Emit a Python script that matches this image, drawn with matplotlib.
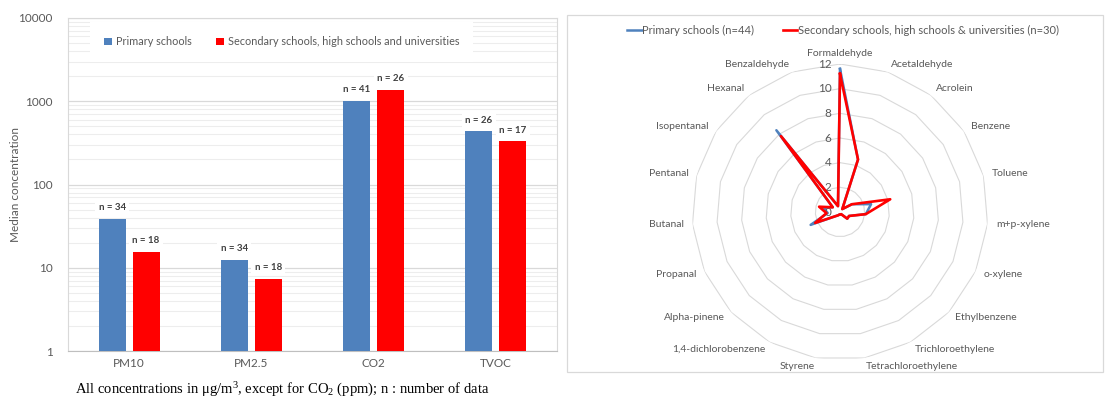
import numpy as np
import matplotlib
matplotlib.use("Agg")
import matplotlib.pyplot as plt
from matplotlib.patches import Rectangle
from matplotlib.lines import Line2D
from matplotlib.ticker import FixedLocator, FuncFormatter, LogLocator, NullFormatter

# ---------------- data ----------------
bar_categories = ["PM10", "PM2.5", "CO2", "TVOC"]
primary_median = [39, 12.4, 1010, 434]
secondary_median = [15.6, 7.4, 1380, 332]
primary_n = [34, 34, 41, 26]
secondary_n = [18, 18, 26, 17]
bar_series_names = ["Primary schools", "Secondary schools, high schools and universities"]

radar_categories = ["Formaldehyde", "Acetaldehyde", "Acrolein", "Benzene", "Toluene",
                    "m+p-xylene", "o-xylene", "Ethylbenzene", "Trichloroethylene",
                    "Tetrachloroethylene", "Styrene", "1,4-dichlorobenzene", "Alpha-pinene",
                    "Propanal", "Butanal", "Pentanal", "Isopentanal", "Hexanal", "Benzaldehyde"]
radar_primary = [11.6, 4.5, 0.3, 1.15, 2.6, 2.1, 0.8, 0.8, 0.2, 0.2, 0.2, 0.3, 0.5,
                 2.6, 1.0, 1.4, 0.7, 8.4, 0.5]
radar_secondary = [11.2, 4.5, 0.3, 1.15, 4.2, 2.1, 0.8, 0.8, 0.2, 0.2, 0.2, 0.3, 0.5,
                   2.2, 1.1, 1.75, 0.7, 7.8, 0.5]
radar_series_names = ["Primary schools (n=44)",
                      "Secondary schools, high schools & universities (n=30)"]
radar_ticks = [0, 2, 4, 6, 8, 10, 12]

caption = r"All concentrations in μg/m$^3$, except for CO$_2$ (ppm); n : number of data"

# ---------------- style ----------------
BLUE = "#4f81bd"
RED = "#ff0000"
GRAY_TXT = "#595959"
GRID = "#d9d9d9"
plt.rcParams["font.family"] = ["Lato", "DejaVu Sans"]
plt.rcParams["mathtext.fontset"] = "custom"
plt.rcParams["mathtext.rm"] = "Liberation Serif"
plt.rcParams["mathtext.it"] = "Liberation Serif:italic"

W, H = 1105, 400
fig = plt.figure(figsize=(W / 100, H / 100), dpi=100)

# ---------------- bar chart ----------------
ax = fig.add_axes([68 / W, (H - 351) / H, (557 - 68) / W, (351 - 18) / H])
x = np.arange(len(bar_categories))
bw = 0.22
off = 0.139
ax.bar(x - off, primary_median, bw, color=BLUE, zorder=3, label=bar_series_names[0])
ax.bar(x + off, secondary_median, bw, color=RED, zorder=3, label=bar_series_names[1])
ax.set_yscale("log")
ax.set_ylim(1, 10000)
ax.set_xlim(-0.5, len(bar_categories) - 0.5)
ax.yaxis.set_major_locator(FixedLocator([1, 10, 100, 1000, 10000]))
ax.yaxis.set_major_formatter(FuncFormatter(lambda v, p: f"{int(round(v))}"))
ax.yaxis.set_minor_locator(LogLocator(base=10, subs=np.arange(2, 10)))
ax.yaxis.set_minor_formatter(NullFormatter())
ax.grid(True, which="major", axis="y", color=GRID, lw=0.9, zorder=0)
ax.grid(True, which="minor", axis="y", color="#ededed", lw=0.8, zorder=0)
ax.set_xticks(x)
ax.set_xticklabels(bar_categories)
ax.tick_params(axis="both", which="both", length=0, colors=GRAY_TXT, labelsize=8.5)
ax.tick_params(axis="y", pad=11)
ax.tick_params(axis="x", pad=5)
for s in ["left", "right", "top"]:
    ax.spines[s].set_color(GRID)
ax.spines["bottom"].set_color("#bfbfbf")
ax.set_ylabel("Median concentration", color=GRAY_TXT, fontsize=8.5)
ax.yaxis.set_label_coords((21 - 68) / (557 - 68), 0.5)

for xi, v, n in zip(x - off, primary_median, primary_n):
    ax.annotate(f"n = {n}", (xi, v), xytext=(0, 8), textcoords="offset points",
                ha="center", va="center", fontsize=7, color="#404040", fontweight="bold",
                bbox=dict(boxstyle="square,pad=0.35", fc="white", ec="none"), zorder=4)
for xi, v, n in zip(x + off, secondary_median, secondary_n):
    ax.annotate(f"n = {n}", (xi, v), xytext=(0, 8), textcoords="offset points",
                ha="center", va="center", fontsize=7, color="#404040", fontweight="bold",
                bbox=dict(boxstyle="square,pad=0.35", fc="white", ec="none"), zorder=4)

leg = ax.legend(loc="center", bbox_to_anchor=(0.437, 0.928), ncol=2, fontsize=7.8,
                frameon=True, fancybox=False, edgecolor="none", facecolor="white",
                framealpha=1, handlelength=0.7, handleheight=0.7, handletextpad=0.35,
                columnspacing=2.3, borderpad=1.3, borderaxespad=0)
for t in leg.get_texts():
    t.set_color(GRAY_TXT)
leg.set_zorder(5)

# ---------------- radar chart ----------------
fig.patches.append(Rectangle((567 / W, (H - 372) / H), (1103 - 567) / W, (372 - 15) / H,
                             transform=fig.transFigure, fc="none", ec=GRID, lw=0.9, zorder=0))

cx, cy, R = 840, 212, 148
rax = fig.add_axes([(cx - R) / W, (H - cy - R) / H, 2 * R / W, 2 * R / H], projection="polar")
rax.set_theta_zero_location("N")
rax.set_theta_direction(-1)
rax.set_ylim(0, radar_ticks[-1])
rax.grid(False)
rax.set_xticks([])
rax.set_yticks([])
rax.spines["polar"].set_visible(False)
rax.patch.set_alpha(0)

N = len(radar_categories)
ang = np.arange(N) * 2 * np.pi / N
ang_c = np.append(ang, ang[0])
for r in radar_ticks[1:]:
    rax.plot(ang_c, [r] * (N + 1), color=GRID, lw=0.8, zorder=1)

rax.plot(ang_c, np.append(radar_primary, radar_primary[0]), color=BLUE, lw=1.8, zorder=3)
rax.plot(ang_c, np.append(radar_secondary, radar_secondary[0]), color=RED, lw=1.9, zorder=4)

for r in radar_ticks:
    rax.annotate(str(r), (0, r), xytext=(-6, 0), textcoords="offset points",
                 ha="right", va="center", fontsize=8.5, color=GRAY_TXT, annotation_clip=False)

for a, lab in zip(ang, radar_categories):
    s, c = np.sin(a), np.cos(a)
    if abs(s) < 0.05:
        ha = "center"
    else:
        ha = "left" if s > 0 else "right"
    va = "center"
    d = 6
    dx, dy = s * d, c * d
    if c > 0.99:
        va = "bottom"
        dy = 4
    rax.annotate(lab, (a, radar_ticks[-1]), xytext=(dx, dy), textcoords="offset points",
                 ha=ha, va=va, fontsize=7.5, color=GRAY_TXT, annotation_clip=False)

handles = [Line2D([], [], color=BLUE, lw=1.8), Line2D([], [], color=RED, lw=1.9)]
rleg = fig.legend(handles, radar_series_names, loc="center", bbox_to_anchor=(843 / W, (H - 30) / H),
                  ncol=2, frameon=False, fontsize=8, handlelength=1.3, handletextpad=0.05,
                  columnspacing=2.6)
for t in rleg.get_texts():
    t.set_color(GRAY_TXT)

# ---------------- caption ----------------
fig.text(75 / W, (H - 390) / H, caption, family="Liberation Serif", fontsize=10.5,
         ha="left", va="center", color="black")

fig.savefig("out.png", dpi=100)
